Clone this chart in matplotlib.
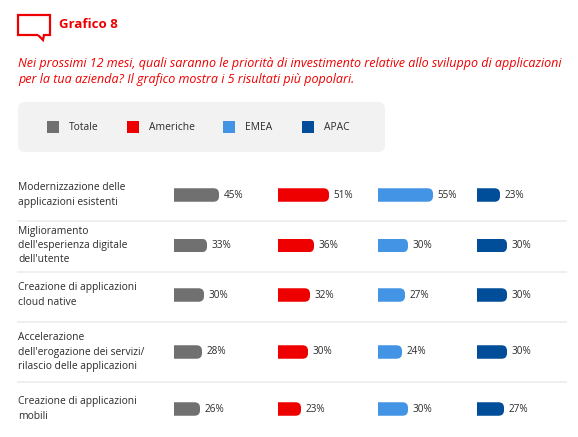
import matplotlib
matplotlib.use("Agg")
import matplotlib.pyplot as plt
from matplotlib.patches import FancyBboxPatch, PathPatch, Rectangle
from matplotlib.path import Path

# ---------------- data ----------------
categories = [
    "Modernizzazione delle\napplicazioni esistenti",
    "Miglioramento\ndell'esperienza digitale\ndell'utente",
    "Creazione di applicazioni\ncloud native",
    "Accelerazione\ndell'erogazione dei servizi/\nrilascio delle applicazioni",
    "Creazione di applicazioni\nmobili",
]
series_names = ["Totale", "Americhe", "EMEA", "APAC"]
totale = [45, 33, 30, 28, 26]
americhe = [51, 36, 32, 30, 23]
emea = [55, 30, 27, 24, 30]
apac = [23, 30, 30, 30, 27]
series_values = [totale, americhe, emea, apac]

title = "Grafico 8"
subtitle = ("Nei prossimi 12 mesi, quali saranno le priorità di investimento relative allo sviluppo di applicazioni\n"
            "per la tua azienda? Il grafico mostra i 5 risultati più popolari.")

# ---------------- style / layout ----------------
colors = ["#707070", "#ee0000", "#4394e5", "#004d99"]
red = "#ee0000"
txt = "#2b2b2b"
FONT = "Open Sans"
plt.rcParams["font.family"] = [FONT, "DejaVu Sans"]

W, H = 578, 437
fig = plt.figure(figsize=(W / 100, H / 100), dpi=100)
ax = fig.add_axes([0, 0, 1, 1])
ax.set_xlim(0, W)
ax.set_ylim(H, 0)
ax.axis("off")

group_left = [174, 278, 378, 477]
px_per_pct = 1.0
row_y = [195, 245.5, 295, 352, 409]
dividers_y = [221, 272, 322, 382]
bar_h = 13.5
radius = 5.5
line_gap = 14.3

# header icon (speech bubble)
icon = Path([(38, 35), (18, 35), (18, 15), (50, 15), (50, 35), (44, 35), (43, 40), (38, 35)],
            [Path.MOVETO] + [Path.LINETO] * 7)
ax.add_patch(PathPatch(icon, fill=False, edgecolor=red, lw=1.6, joinstyle="miter"))
ax.text(59, 25, title, color=red, fontsize=9.5, fontweight="bold", va="center", ha="left")

sub_lines = subtitle.split("\n")
for i, line in enumerate(sub_lines):
    ax.text(18, 63 + i * 17, line, color=red, fontsize=9.0, fontstyle="italic",
            fontweight="medium", va="center", ha="left")

# legend box
ax.add_patch(FancyBboxPatch((18, 102), 367, 50, boxstyle="round,pad=0,rounding_size=7",
                            facecolor="#f2f2f2", edgecolor="none"))
leg_sq_x = [47, 127, 223, 302]
for name, c, x in zip(series_names, colors, leg_sq_x):
    ax.add_patch(Rectangle((x, 121), 12, 12, facecolor=c, edgecolor="none"))
    ax.text(x + 22, 127, name, color=txt, fontsize=7.4, va="center", ha="left")

# dividers
for y in dividers_y:
    ax.plot([17, 567], [y, y], color="#ebebeb", lw=1.1, solid_capstyle="butt")

# row labels
for cat, y in zip(categories, row_y):
    lines = cat.split("\n")
    n = len(lines)
    for i, line in enumerate(lines):
        ax.text(18, y + (i - (n - 1) / 2) * line_gap, line, color=txt, fontsize=7.4,
                va="center", ha="left")

# bars
for vals, c, left in zip(series_values, colors, group_left):
    widths = [v * px_per_pct for v in vals]
    bars = ax.barh(row_y, widths, left=left, height=bar_h, color=c, edgecolor="none")
    for rect, v in zip(bars, vals):
        x0, y0 = rect.get_x(), rect.get_y()
        w, h = rect.get_width(), rect.get_height()
        clip = FancyBboxPatch((x0 - 20, y0), w + 20, h,
                              boxstyle=f"round,pad=0,rounding_size={radius}",
                              transform=ax.transData)
        rect.set_clip_path(clip)
        ax.text(x0 + w + 4.5, y0 + h / 2, f"{v}%", color=txt, fontsize=7.2,
                va="center", ha="left")

fig.savefig("out.png", dpi=100, facecolor="white")
